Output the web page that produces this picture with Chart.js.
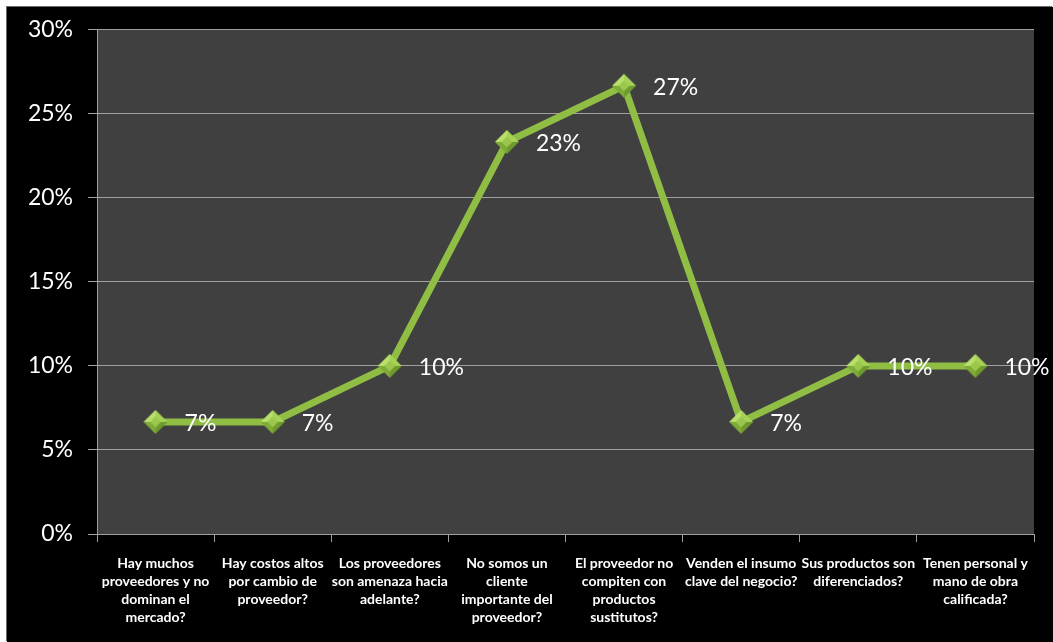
<!DOCTYPE html>
<html lang="es">
<head>
<meta charset="utf-8">
<title>Poder de negociación de los proveedores</title>
<script src="https://cdn.jsdelivr.net/npm/chart.js@4/dist/chart.umd.min.js"></script>
<style>
    html, body { margin: 0; padding: 0; background: #ffffff; }
    #wrap {
        position: absolute;
        left: 7px;
        top: 7px;
        width: 1046px;
        height: 635px;
        overflow: hidden;
        background: #000000;
        box-shadow: -1px -1px 0 #6a6a6a;
    }
    canvas { display: block; position: absolute; left: 0; top: -6px; }
</style>
</head>
<body>
<div id="wrap">
    <canvas id="chart" width="1046" height="641"></canvas>
</div>
<script>
// --- Datos ---
const preguntas = [
    ['Hay muchos', 'proveedores y no', 'dominan el', 'mercado?'],
    ['Hay costos altos', 'por cambio de', 'proveedor?'],
    ['Los proveedores', 'son amenaza hacia', 'adelante?'],
    ['No somos un', 'cliente', 'importante del', 'proveedor?'],
    ['El proveedor no', 'compiten con', 'productos', 'sustitutos?'],
    ['Venden el insumo', 'clave del negocio?'],
    ['Sus productos son', 'diferenciados?'],
    ['Tenen personal y', 'mano de obra', 'calificada?']
];
const porcentajes = [6.67, 6.67, 10, 23.33, 26.67, 6.67, 10, 10];
const ticksY = [0, 5, 10, 15, 20, 25, 30];

const FONT = 'Lato, "Open Sans", sans-serif';

// marcador en rombo con relieve
function makeDiamond(r) {
    const c = document.createElement('canvas');
    c.width = c.height = r * 2 + 2;
    const g = c.getContext('2d');
    const m = r + 1;
    const faces = [
        ['#b8e06a', [m, m - r], [m - r, m]],
        ['#a5d257', [m, m - r], [m + r, m]],
        ['#7fab38', [m - r, m], [m, m + r]],
        ['#6f9a2f', [m + r, m], [m, m + r]]
    ];
    faces.forEach(([col, a, b]) => {
        g.beginPath();
        g.moveTo(m, m);
        g.lineTo(a[0], a[1]);
        g.lineTo(b[0], b[1]);
        g.closePath();
        g.fillStyle = col;
        g.fill();
    });
    g.beginPath();
    g.moveTo(m, m - r * 0.45);
    g.lineTo(m + r * 0.45, m);
    g.lineTo(m, m + r * 0.45);
    g.lineTo(m - r * 0.45, m);
    g.closePath();
    g.fillStyle = '#9bc84c';
    g.fill();
    return c;
}
const rombo = makeDiamond(12);

// fondo gris del área de trazado
const plotBackground = {
    id: 'plotBackground',
    beforeDraw(chart) {
        const { ctx, chartArea: a } = chart;
        ctx.save();
        ctx.fillStyle = '#404040';
        ctx.fillRect(a.left, a.top, a.right - a.left, a.bottom - a.top);
        ctx.restore();
    }
};

// etiquetas de porcentaje a la derecha de cada punto
const valueLabels = {
    id: 'valueLabels',
    afterDatasetsDraw(chart) {
        const ctx = chart.ctx;
        const meta = chart.getDatasetMeta(0);
        ctx.save();
        ctx.font = '23px ' + FONT;
        ctx.fillStyle = '#ffffff';
        ctx.textAlign = 'left';
        ctx.textBaseline = 'middle';
        meta.data.forEach((pt, i) => {
            ctx.fillText(Math.round(porcentajes[i]) + '%', pt.x + 29, pt.y + 2);
        });
        ctx.restore();
    }
};

new Chart(document.getElementById('chart'), {
    type: 'line',
    data: {
        labels: preguntas,
        datasets: [{
            data: porcentajes,
            borderColor: '#90be45',
            borderWidth: 7,
            tension: 0,
            pointStyle: rombo,
            pointRadius: 12,
            pointHoverRadius: 12
        }]
    },
    options: {
        responsive: false,
        animation: false,
        events: [],
        layout: { padding: { left: 0, top: 16, right: 19, bottom: 0 } },
        plugins: {
            legend: { display: false },
            tooltip: { enabled: false }
        },
        scales: {
            x: {
                offset: true,
                afterFit: (s) => { s.height = 108; },
                grid: {
                    offset: true,
                    drawOnChartArea: false,
                    color: '#a0a0a0',
                    tickLength: 8
                },
                border: { color: '#a0a0a0', width: 1 },
                ticks: {
                    color: '#ffffff',
                    maxRotation: 0,
                    autoSkip: false,
                    padding: 12,
                    font: { family: FONT, size: 14, weight: 'bold', lineHeight: 1.3 }
                }
            },
            y: {
                min: 0,
                max: 30,
                afterFit: (s) => { s.width = 90; },
                afterBuildTicks: (s) => { s.ticks = ticksY.map(v => ({ value: v })); },
                grid: {
                    color: '#a0a0a0',
                    tickLength: 9
                },
                border: { color: '#a0a0a0', width: 1 },
                ticks: {
                    color: '#ffffff',
                    padding: 15,
                    font: { family: FONT, size: 23 },
                    callback: (v) => v + '%'
                }
            }
        }
    },
    plugins: [plotBackground, valueLabels]
});
</script>
</body>
</html>
